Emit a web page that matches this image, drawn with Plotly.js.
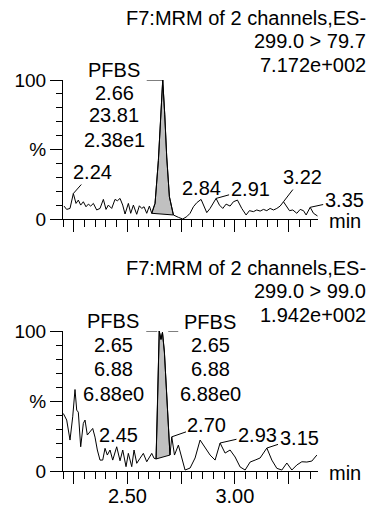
<!DOCTYPE html>
<html><head><meta charset="utf-8">
<script src="https://cdn.plot.ly/plotly-3.0.1.min.js"></script>
<style>html,body{margin:0;padding:0;background:#fff;}#chart{width:371px;height:506px;}</style>
</head><body><div id="chart"></div>
<script>
// ---- data: channel 299.0 > 79.7 (top) ----
const topTime = [2.2047,2.2171,2.2326,2.2481,2.2605,2.2714,2.2823,2.2947,2.3071,2.3180,2.3289,2.3413,2.3568,2.3723,2.3879,2.4003,2.4111,2.4267,2.4422,2.4531,2.4655,2.4779,2.4888,2.5043,2.5152,2.5276,2.5431,2.5555,2.5664,2.5773,2.5897,2.6021,2.6130,2.6285,2.6440,2.6564,2.6642,2.6735,2.6828,2.6953,2.7139,2.7372,2.7574,2.7760,2.7915,2.8070,2.8226,2.8428,2.8567,2.8692,2.8847,2.9002,2.9126,2.9282,2.9437,2.9592,2.9778,2.9933,3.0120,3.0321,3.0523,3.0678,3.0865,3.1020,3.1176,3.1331,3.1486,3.1641,3.1797,3.1952,3.2107,3.2263,3.2387,3.2542,3.2697,3.2884,3.3039,3.3194,3.3318,3.3505,3.3660,3.3846];
const topValue = [9.5,7.1,7.8,18.5,11.4,13.8,10.2,12.6,9.0,10.9,9.5,11.4,6.7,7.8,14.3,7.1,10.2,7.8,14.3,13.3,15.0,10.2,3.8,11.4,4.3,10.2,3.6,9.7,7.8,9.0,4.3,9.5,4.3,11.4,42.3,78.0,100,75.5,44.7,16.2,3.1,1.4,0.2,1.9,4.3,9.0,11.9,14.3,9.0,4.8,7.8,11.4,15.0,10.2,7.8,10.9,9.5,12.6,13.8,7.8,3.1,6.2,5.5,6.7,5.9,7.1,6.2,7.8,6.7,7.8,9.5,12.6,9.5,6.2,6.7,4.3,7.1,6.2,3.1,8.6,4.3,2.4];
const topPeakStart = 2.6130, topPeakEnd = 2.7139, topApex = 2.6642;
const topHeader = ["F7:MRM of 2 channels,ES-", "299.0 > 79.7", "7.172e+002"];
const topPeakInfo = ["PFBS", "2.66", "23.81", "2.38e1"];
const topLabelText = ["2.24", "2.84", "2.91", "3.22", "3.35"];
const topLabelTime = [2.2481, 2.8428, 2.9126, 3.2263, 3.3505];

// ---- data: channel 299.0 > 99.0 (bottom) ----
const botTime = [2.2014,2.2172,2.2326,2.2452,2.2559,2.2638,2.2713,2.2824,2.2946,2.3025,2.3132,2.3258,2.3383,2.3490,2.3598,2.3723,2.3849,2.3956,2.4063,2.4189,2.4315,2.4500,2.4655,2.4781,2.4934,2.5041,2.5200,2.5307,2.5433,2.5586,2.5740,2.5898,2.6131,2.6238,2.6332,2.6380,2.6430,2.6480,2.6560,2.6630,2.6720,2.6810,2.6900,2.6980,2.7063,2.7189,2.7370,2.7529,2.7682,2.7915,2.8148,2.8381,2.8614,2.8847,2.9080,2.9312,2.9545,2.9778,3.0011,3.0244,3.0477,3.0710,3.0943,3.1176,3.1488,3.1721,3.1954,3.2187,3.2419,3.2652,3.2885,3.3118,3.3351,3.3584,3.3817];
const botValue = [41.1,36.4,22.1,38.7,58.2,43.5,42.0,17.3,34.0,36.4,25.7,28.0,30.4,24.2,15.0,7.8,7.8,16.2,11.4,15.0,7.8,17.3,7.3,15.0,3.1,12.6,3.1,15.0,5.5,9.1,12.6,6.6,12.6,9.1,8.6,35,75,100,94,99,85,58,33,11.4,24.4,11.4,18.5,10.2,0.7,2.1,9.3,22.1,16.4,11.4,7.8,20.0,12.8,15.0,10.0,2.9,0.7,6.4,7.8,9.3,16.4,7.8,1.9,0.7,5.7,0.7,4.3,6.6,6.4,7.1,11.4];
const botPeakStart = 2.6332, botPeakEnd = 2.6980, botApex = 2.6480;
const botHeader = ["F7:MRM of 2 channels,ES-", "299.0 > 99.0", "1.942e+002"];
const botPeakInfoL = ["PFBS", "2.65", "6.88", "6.88e0"];
const botPeakInfoR = ["PFBS", "2.65", "6.88", "6.88e0"];
const botLabelText = ["2.45", "2.70", "2.93", "3.15"];
const botLabelTime = [2.4500, 2.7063, 2.9312, 3.1488];

// ---- axis ticks ----
const xTickVals = [2.25, 2.50, 2.75, 3.00, 3.25];
const xTickText = ["", "2.50", "", "3.00", ""];
const yTickVals = [0, 50, 100];
const yTickText = ["0", "%", "100"];
const xUnit = "min";

// ---- layout geometry (pixels) ----
const L = 63, R = 318, T = 80, B = 471;
const px = v => (v - L) / (R - L);
const py = v => (B - v) / (B - T);
const FONT = "Liberation Sans, Arial, Helvetica, sans-serif";
const FS = 20;

function valueAt(times, values, t) { return values[times.indexOf(t)]; }
function peakPoly(times, values, t0, t1) {
  const xs = [], ys = [];
  times.forEach((t, i) => { if (t >= t0 && t <= t1) { xs.push(t); ys.push(values[i]); } });
  xs.push(xs[0]); ys.push(ys[0]);
  return {x: xs, y: ys};
}

const pTop = peakPoly(topTime, topValue, topPeakStart, topPeakEnd);
const pBot = peakPoly(botTime, botValue, botPeakStart, botPeakEnd);

const traces = [
  {x: pTop.x, y: pTop.y, xaxis: 'x', yaxis: 'y', mode: 'lines', fill: 'toself', fillcolor: '#c0c0c0', line: {color: '#000', width: 1}, hoverinfo: 'skip'},
  {x: topTime, y: topValue, xaxis: 'x', yaxis: 'y', mode: 'lines', line: {color: '#000', width: 1}},
  {x: pBot.x, y: pBot.y, xaxis: 'x2', yaxis: 'y2', mode: 'lines', fill: 'toself', fillcolor: '#c0c0c0', line: {color: '#000', width: 1}, hoverinfo: 'skip'},
  {x: botTime, y: botValue, xaxis: 'x2', yaxis: 'y2', mode: 'lines', line: {color: '#000', width: 1}}
];

function xAxis(anchor, showLabels) {
  return {
    domain: [0, 1], anchor: anchor, range: [2.2, 3.387],
    showline: true, linecolor: '#000', linewidth: 1, mirror: false,
    showgrid: false, zeroline: false,
    tickmode: 'array', tickvals: xTickVals, ticktext: showLabels ? xTickText : xTickVals.map(() => ''),
    ticks: 'outside', ticklen: 12, tickwidth: 1, tickcolor: '#000',
    minor: {ticks: 'outside', ticklen: 7, tickwidth: 1, tickcolor: '#000', tickmode: 'linear', tick0: 2.25, dtick: 0.05, showgrid: false},
    tickfont: {family: FONT, size: FS, color: '#000'},
    ticklabelstandoff: -5, fixedrange: true
  };
}
function yAxis(anchor, domain) {
  return {
    domain: domain, anchor: anchor, range: [0, 100],
    showline: true, linecolor: '#000', linewidth: 1,
    showgrid: false, zeroline: false,
    tickmode: 'array', tickvals: yTickVals, ticktext: yTickText,
    ticks: 'outside', ticklen: 12, tickwidth: 1, tickcolor: '#000',
    minor: {ticks: 'outside', ticklen: 6, tickwidth: 1, tickcolor: '#000', tickmode: 'linear', tick0: 0, dtick: 10, showgrid: false},
    tickfont: {family: FONT, size: FS - 1, color: '#000'},
    ticklabelstandoff: 0, fixedrange: true
  };
}

const ann = [];
function txt(text, xpix, ypix, anchor) {
  ann.push({text: text, xref: 'paper', yref: 'paper', x: px(xpix), y: py(ypix),
    xanchor: anchor || 'center', yanchor: 'middle', showarrow: false,
    font: {family: FONT, size: FS, color: '#000'}});
}
// headers
[18, 41, 65].forEach((y, i) => txt(topHeader[i], 368, y, 'right'));
[268, 291, 315].forEach((y, i) => txt(botHeader[i], 368, y, 'right'));
// peak info stacks
[69.5, 93, 115.5, 140].forEach((y, i) => txt(topPeakInfo[i], 114, y));
[321, 345, 369, 394].forEach((y, i) => txt(botPeakInfoL[i], 113, y));
[322, 345, 369, 394].forEach((y, i) => txt(botPeakInfoR[i], 210, y));
// unit labels
txt(xUnit, 345, 221);
txt(xUnit, 345, 473);

// labelled peaks with leader lines
const topOff = [[19, -21.5], [0, -11], [34, -9.4], [19, -24.7], [34, -7.3]];
const topArrow = [true, false, true, true, true];
topLabelText.forEach((s, i) => {
  const a = {text: s, xref: 'x', yref: 'y', x: topLabelTime[i], y: valueAt(topTime, topValue, topLabelTime[i]),
    font: {family: FONT, size: FS, color: '#000'}};
  if (topArrow[i]) Object.assign(a, {showarrow: true, ax: topOff[i][0], ay: topOff[i][1], arrowhead: 0, arrowwidth: 1, arrowcolor: '#000', standoff: 0});
  else Object.assign(a, {showarrow: false, xshift: topOff[i][0], yshift: -topOff[i][1], yanchor: 'middle'});
  ann.push(a);
});
const botOff = [[1.3, -12], [35.2, -12.3], [37.4, -8.5], [32.2, -10.5]];
const botArrow = [false, true, true, true];
botLabelText.forEach((s, i) => {
  const a = {text: s, xref: 'x2', yref: 'y2', x: botLabelTime[i], y: valueAt(botTime, botValue, botLabelTime[i]),
    font: {family: FONT, size: FS, color: '#000'}};
  if (botArrow[i]) Object.assign(a, {showarrow: true, ax: botOff[i][0], ay: botOff[i][1], arrowhead: 0, arrowwidth: 1, arrowcolor: '#000', standoff: 0});
  else Object.assign(a, {showarrow: false, xshift: botOff[i][0], yshift: -botOff[i][1], yanchor: 'middle'});
  ann.push(a);
});

// horizontal leaders from peak-name labels to the apex
const leader = (xr, yr, apex, x0, x1) => ({type: 'line', xref: xr, yref: yr, xsizemode: 'pixel', xanchor: apex,
  x0: x0, x1: x1, y0: 100, y1: 100, line: {color: '#000', width: 1}});
const shapes = [
  leader('x', 'y', topApex, -16, 0),
  leader('x2', 'y2', botApex, -13, -2),
  leader('x2', 'y2', botApex, 9, 19)
];

const layout = {
  width: 371, height: 506,
  margin: {l: L, r: 371 - R, t: T, b: 506 - B, pad: 0},
  paper_bgcolor: '#fff', plot_bgcolor: '#fff',
  showlegend: false,
  xaxis: xAxis('y', false),
  yaxis: yAxis('x', [py(219.3), 1]),
  xaxis2: xAxis('y2', true),
  yaxis2: yAxis('x2', [0, py(331)]),
  annotations: ann, shapes: shapes,
  font: {family: FONT, color: '#000'}
};
Plotly.newPlot('chart', traces, layout, {displayModeBar: false, staticPlot: true});
</script></body></html>
